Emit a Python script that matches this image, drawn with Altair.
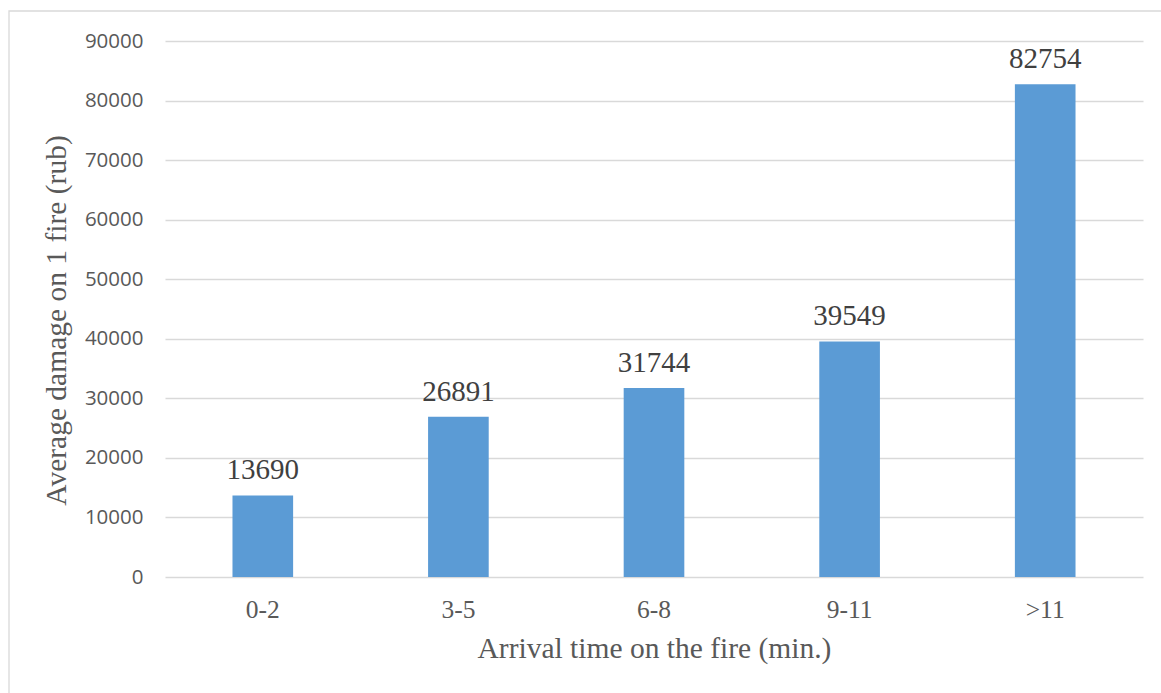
import altair as alt
import pandas as pd

# Average damage per fire by fire-brigade arrival time
categories = ["0-2", "3-5", "6-8", "9-11", ">11"]
damage = [13690, 26891, 31744, 39549, 82754]

df = pd.DataFrame({"arrival": categories, "damage": damage})
frame_df = pd.DataFrame({"k": [0]})

W, H = 978, 536
SERIF = "Liberation Serif"
SANS = "Open Sans"

x_enc = alt.X(
    "arrival:N",
    sort=categories,
    scale=alt.Scale(paddingInner=0.69, paddingOuter=0.345),
    axis=alt.Axis(
        title="Arrival time on the fire (min.)",
        labelAngle=0,
        labelFont=SERIF,
        labelFontSize=25.5,
        labelColor="#595959",
        labelPadding=20,
        ticks=False,
        domain=False,
        titleFont=SERIF,
        titleFontSize=29.5,
        titleFontWeight="normal",
        titleColor="#595959",
        titlePadding=12,
    ),
)

y_enc = alt.Y(
    "damage:Q",
    scale=alt.Scale(domain=[0, 90000], nice=False),
    axis=alt.Axis(
        title="Average damage on 1 fire (rub)",
        values=list(range(0, 90001, 10000)),
        format="d",
        labelFont=SANS,
        labelFontSize=20.5,
        labelColor="#595959",
        labelPadding=22,
        ticks=False,
        domain=False,
        grid=True,
        gridColor="#d9d9d9",
        gridWidth=1.3,
        titleFont=SERIF,
        titleFontSize=29.5,
        titleFontWeight="normal",
        titleColor="#595959",
        titlePadding=13,
        titleY=279,
    ),
)

bars = alt.Chart(df).mark_bar(color="#5b9bd5").encode(x=x_enc, y=y_enc)

labels = alt.Chart(df).mark_text(
    font=SERIF, fontSize=29, color="#404040", baseline="alphabetic", dy=-16
).encode(
    x=alt.X("arrival:N", sort=categories),
    y=alt.Y("damage:Q"),
    text=alt.Text("damage:Q", format="d"),
)

frame = alt.Chart(frame_df).mark_rect(
    fill=None, stroke="#d9d9d9", strokeWidth=1.3
).encode(
    x=alt.value(-156),
    x2=alt.value(W + 40),
    y=alt.value(-30),
    y2=alt.value(H + 140),
)

chart = (
    alt.layer(frame, bars, labels)
    .properties(
        width=W,
        height=H,
        autosize=alt.AutoSizeParams(type="none"),
        padding={"left": 165, "top": 41, "right": 18, "bottom": 116},
        background="white",
    )
    .configure_view(stroke=None)
)

chart.save("out.html", embed_options={"renderer": "svg", "actions": False})
